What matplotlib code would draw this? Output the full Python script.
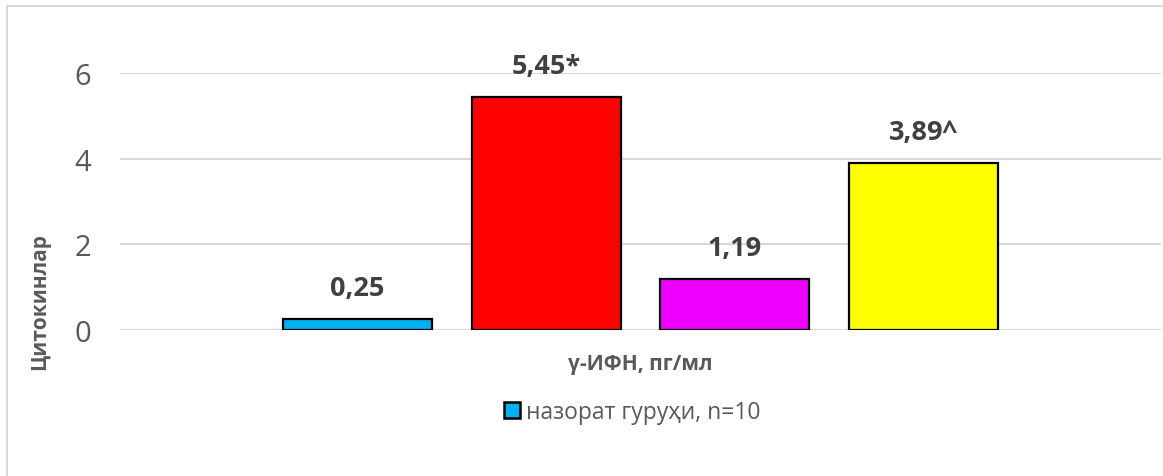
import matplotlib
matplotlib.use("Agg")
import matplotlib.pyplot as plt
from matplotlib.patches import Rectangle
import numpy as np

# group values, gamma-interferon pg/ml
values = [0.25, 5.45, 1.19, 3.89]
value_labels = ["0,25", "5,45*", "1,19", "3,89^"]
colors = ["#00B0F0", "#FF0000", "#EE00FF", "#FFFF00"]
legend_label = "назорат гуруҳи, n=10"
x_label = "γ-ИФН, пг/мл"
y_label = "Цитокинлар"
y_ticks = [0, 2, 4, 6]

plt.rcParams['font.family'] = ['Open Sans', 'DejaVu Sans']

W, H = 1163, 477
fig = plt.figure(figsize=(W / 100, H / 100), dpi=100)

# thin grey chart frame
fig.patches.append(Rectangle((7 / W, -0.1), 1.2, 1.1 - 7 / H, transform=fig.transFigure,
                             fill=False, edgecolor="#D9D9D9", linewidth=1.5))

ax = fig.add_axes([120 / W, 1 - 331 / H, (1161 - 120) / W, (331 - 74) / H])

x = np.arange(len(values))
bars = ax.bar(x, values, width=0.79, color=colors, edgecolor="black", linewidth=1.6, zorder=3)

for b, txt in zip(bars, value_labels):
    ax.annotate(txt, (b.get_x() + b.get_width() / 2, b.get_height()),
                xytext=(0, 13), textcoords="offset points", ha="center", va="bottom",
                fontsize=19.5, fontweight="bold", color="#404040", annotation_clip=False)

ax.set_xlim(-1.257, 4.257)
ax.set_ylim(0, 6)
ax.set_yticks(y_ticks)
ax.set_yticklabels([str(t) for t in y_ticks], fontsize=21, color="#595959")
ax.tick_params(axis="y", length=0, pad=21)
ax.set_xticks([])
ax.grid(axis="y", color="#D9D9D9", linewidth=1.5, zorder=0)
for s in ax.spines.values():
    s.set_visible(False)

fig.text(640 / W, 1 - 365 / H, x_label, ha="center", va="center",
         fontsize=15, fontweight="bold", color="#595959")
fig.text(40 / W, 1 - 302 / H, y_label, ha="center", va="center", rotation=90,
         fontsize=15, fontweight="bold", color="#595959")

# legend shows only the control group
handle = Rectangle((0, 0), 1, 1, facecolor=colors[0], edgecolor="black", linewidth=1.8)
fig.legend([handle], [legend_label], loc="center", bbox_to_anchor=(632 / W, 1 - 413 / H),
           frameon=False, fontsize=16.5, handlelength=0.7, handleheight=0.7,
           handletextpad=0.25, labelcolor="#595959")

fig.savefig("out.png", dpi=100)
